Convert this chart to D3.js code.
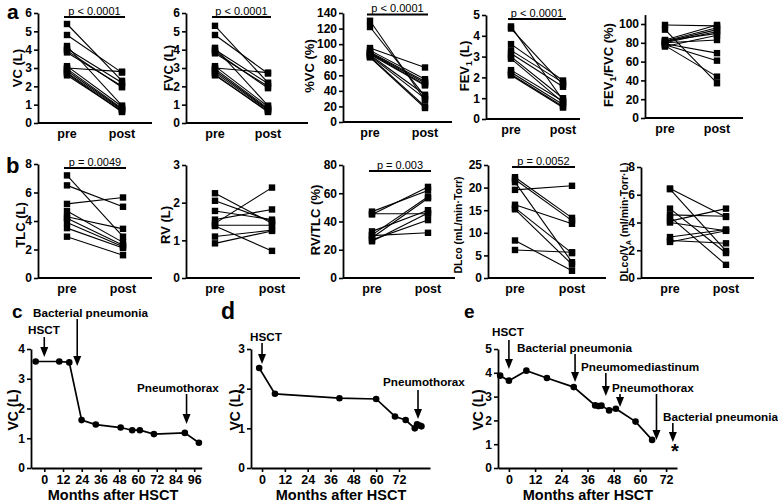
<!DOCTYPE html>
<html>
<head>
<meta charset="utf-8">
<script src="https://cdn.jsdelivr.net/npm/d3@7"></script>
<style>
  body { margin: 0; background: #fff; }
  svg { display: block; }
</style>
</head>
<body>
<script>
// ---- data: paired pre/post measurements ----
const vcPre = [5.4, 4.8, 4.2, 4.05, 3.95, 3.85, 3.1, 3.0, 2.95, 2.85, 2.75, 2.7, 2.6];
const vcPost = [2.3, 2.75, 0.95, 2.2, 1.95, 2.0, 0.9, 2.8, 0.8, 0.75, 0.7, 0.6, 0.65];
const fvcPre = [5.3, 4.8, 4.1, 4.0, 3.9, 3.8, 3.1, 3.0, 2.95, 2.85, 2.75, 2.65, 2.6];
const fvcPost = [2.2, 2.7, 0.95, 2.15, 1.9, 2.0, 0.9, 2.75, 0.8, 0.75, 0.7, 0.6, 0.65];
const pctVcPre = [130, 122, 95, 92, 90, 89, 88, 87, 86, 85, 84, 83];
const pctVcPost = [28, 33, 70, 55, 52, 50, 48, 47, 35, 30, 20, 18];
const fev1Pre = [4.45, 4.35, 3.6, 3.3, 3.15, 3.0, 2.9, 2.35, 2.25, 2.15, 2.1];
const fev1Post = [0.9, 1.65, 1.85, 1.75, 1.55, 1.0, 0.8, 0.85, 0.7, 0.6, 0.55];
const ratioPre = [99, 94, 83, 82, 81, 80, 80, 79, 78, 77, 76, 82];
const ratioPost = [98, 37, 99, 96, 94, 92, 83, 69, 61, 44, 88, 90];

const tlcPre = [7.2, 6.5, 5.2, 4.7, 4.3, 4.2, 3.9, 3.5, 2.9];
const tlcPost = [2.9, 5.0, 5.65, 2.5, 3.45, 2.3, 2.2, 2.1, 1.6];
const rvPre = [2.25, 2.05, 1.78, 1.55, 1.45, 1.4, 1.38, 1.1, 0.92];
const rvPost = [1.45, 1.5, 1.55, 1.82, 2.4, 1.4, 0.72, 1.27, 1.25];
const rvTlcPre = [47, 45, 45.5, 33, 30.5, 28.5, 27, 26, 30];
const rvTlcPost = [62, 64.5, 45.5, 48, 57.5, 56.5, 41, 46, 32];
const dlcoPre = [22.3, 21.8, 21.2, 19.5, 16.2, 15.5, 15.2, 8.3, 6.2];
const dlcoPost = [13.3, 12.7, 3.5, 20.4, 12.0, 5.5, 3.0, 1.6, 5.7];
const dlcoVaPre = [6.45, 6.4, 5.0, 4.55, 4.1, 4.0, 2.95, 2.7, 2.6, 4.4];
const dlcoVaPost = [4.4, 1.95, 1.8, 4.45, 5.0, 3.4, 3.5, 2.5, 3.4, 0.95];

// ---- data: time courses (months after HSCT, VC in L) ----
const cMonths = [-5.5, 9.6, 16, 23.9, 33, 48.9, 56.3, 61.2, 70.2, 90, 99];
const cVC = [3.58, 3.58, 3.55, 1.61, 1.46, 1.36, 1.27, 1.27, 1.14, 1.18, 0.85];
const dMonths = [-1.5, 6.8, 40.7, 60, 69.9, 75.5, 80.3, 81.5, 82.9, 83.8];
const dVC = [2.52, 1.87, 1.76, 1.74, 1.3, 1.21, 1.0, 1.1, 1.07, 1.05];
const eMonths = [-4, 0, 8, 17.4, 29.7, 39.5, 41, 42.4, 45.9, 49, 58, 65.6];
const eVC = [3.88, 3.67, 4.09, 3.78, 3.4, 2.63, 2.6, 2.62, 2.42, 2.49, 1.95, 1.18];

const cEvents = ["HSCT", "Bacterial pneumonia", "Pneumothorax"];
const cEventMonths = [0, 21.1, 91.1];
const dEvents = ["HSCT", "Pneumothorax"];
const dEventMonths = [0, 82];
const eEvents = ["HSCT", "Bacterial pneumonia", "Pneumomediastinum", "Pneumothorax", "Pneumothorax", "Bacterial pneumonia"];
const eEventMonths = [0, 30.3, 44.4, 50.9, 67.6, 75.1];

const groups = ["pre", "post"];

const FONT = "'Liberation Sans', Arial, Helvetica, sans-serif";
const svg = d3.select("body").append("svg")
    .attr("width", 778).attr("height", 502)
    .style("font-family", FONT);

// paired pre/post panel
const paired = (p) => {
  const g = svg.append("g");
  const y = d3.scaleLinear().domain([0, p.max]).range([p.y0, p.y1]);
  const x = d3.scalePoint().domain(groups).range([p.preX, p.postX]);

  g.append("g")
      .attr("transform", `translate(${p.ax},0)`)
      .call(d3.axisLeft(y).tickValues(p.ticks).tickFormat(d3.format("d")).tickSize(4).tickSizeOuter(0).tickPadding(2))
      .call(a => a.select(".domain").attr("stroke-width", 1.8))
      .call(a => a.selectAll(".tick line").attr("stroke-width", 1.6))
      .call(a => a.selectAll("text").attr("font-size", 12).attr("font-weight", "bold").attr("fill", "#000").style("font-family", FONT));

  g.append("line")
      .attr("x1", p.ax).attr("x2", p.xEnd)
      .attr("y1", y(0)).attr("y2", y(0))
      .attr("stroke", "#000").attr("stroke-width", 1.8);

  g.selectAll(".grp").data(groups).join("text")
      .attr("x", d => x(d)).attr("y", y(0) + 15)
      .attr("text-anchor", "middle")
      .attr("font-size", 12.5).attr("font-weight", "bold")
      .text(d => d);

  const pairs = p.pre.map((v, i) => [v, p.post[i]]);
  g.selectAll(".pair").data(pairs).join("line")
      .attr("x1", x("pre")).attr("x2", x("post"))
      .attr("y1", d => y(d[0])).attr("y2", d => y(d[1]))
      .attr("stroke", "#000").attr("stroke-width", 1.1);

  const pts = p.pre.map(v => ["pre", v]).concat(p.post.map(v => ["post", v]));
  g.selectAll(".pt").data(pts).join("rect")
      .attr("x", d => x(d[0]) - 3.2).attr("y", d => y(d[1]) - 3.2)
      .attr("width", 6.4).attr("height", 6.4)
      .attr("fill", "#000");

  const fs = p.labelFont || 13;
  const lab = g.append("text")
      .attr("transform", `translate(${p.labelX},${p.labelY}) rotate(-90)`)
      .attr("text-anchor", "middle")
      .attr("font-size", fs).attr("font-weight", "bold");
  p.label.forEach(part => {
    const t = lab.append("tspan").text(part[0]);
    if (part[1] === "sub") t.attr("font-size", fs * 0.7).attr("dy", 3);
    if (part[1] === "up") t.attr("dy", -3);
  });

  if (p.pText) {
    g.append("line")
        .attr("x1", x("pre") - 3).attr("x2", x("post") + 3)
        .attr("y1", p.pY).attr("y2", p.pY)
        .attr("stroke", "#000").attr("stroke-width", 1.8);
    g.append("text")
        .attr("x", (x("pre") + x("post")) / 2).attr("y", p.pY - 2.5)
        .attr("text-anchor", "middle").attr("font-size", 11)
        .text(p.pText);
  }
};

paired({ pre: vcPre, post: vcPost, max: 6, ticks: d3.range(0, 7), y0: 123, y1: 13, ax: 38, preX: 67, postX: 122, xEnd: 152,
  label: [["VC (L)"]], labelX: 22, labelY: 68, pText: "p < 0.0001", pY: 17 });
paired({ pre: fvcPre, post: fvcPost, max: 6, ticks: d3.range(0, 7), y0: 123, y1: 13, ax: 186, preX: 215, postX: 268, xEnd: 308,
  label: [["FVC (L)"]], labelX: 173, labelY: 68, pText: "p < 0.0001", pY: 17 });
paired({ pre: pctVcPre, post: pctVcPost, max: 140, ticks: d3.range(0, 141, 20), y0: 122, y1: 13, ax: 343, preX: 370, postX: 425, xEnd: 452,
  label: [["%VC (%)"]], labelX: 314, labelY: 66, pText: "p < 0.0001", pY: 14.5 });
paired({ pre: fev1Pre, post: fev1Post, max: 5, ticks: d3.range(0, 6), y0: 119, y1: 15, ax: 486, preX: 511, postX: 563, xEnd: 580,
  label: [["FEV"], ["1", "sub"], [" (L)", "up"]], labelX: 469, labelY: 66, pText: "p < 0.0001", pY: 19 });
paired({ pre: ratioPre, post: ratioPost, max: 110, ticks: d3.range(0, 101, 20), y0: 118, y1: 14.6, ax: 645, preX: 665, postX: 717, xEnd: 743,
  label: [["FEV"], ["1", "sub"], ["/FVC (%)", "up"]], labelX: 613, labelY: 65 });

paired({ pre: tlcPre, post: tlcPost, max: 8, ticks: d3.range(0, 9, 2), y0: 278, y1: 164, ax: 38, preX: 67, postX: 123, xEnd: 152,
  label: [["TLC (L)"]], labelX: 25, labelY: 225, pText: "p = 0.0049", pY: 168 });
paired({ pre: rvPre, post: rvPost, max: 3, ticks: d3.range(0, 4), y0: 278, y1: 165, ax: 186, preX: 215, postX: 272, xEnd: 300,
  label: [["RV (L)"]], labelX: 170, labelY: 225 });
paired({ pre: rvTlcPre, post: rvTlcPost, max: 80, ticks: d3.range(0, 81, 20), y0: 278, y1: 165, ax: 343, preX: 372, postX: 428, xEnd: 455,
  label: [["RV/TLC (%)"]], labelX: 320, labelY: 220, pText: "p = 0.003", pY: 171 });
paired({ pre: dlcoPre, post: dlcoPost, max: 25, ticks: d3.range(0, 26, 5), y0: 278, y1: 165, ax: 488, preX: 515, postX: 572, xEnd: 606,
  label: [["DLco (mL/min·Torr)"]], labelX: 462, labelY: 225, labelFont: 10.5, pText: "p = 0.0052", pY: 167 });
paired({ pre: dlcoVaPre, post: dlcoVaPost, max: 8, ticks: d3.range(0, 9, 2), y0: 278, y1: 167, ax: 641, preX: 670, postX: 726, xEnd: 754,
  label: [["DLco/V"], ["A", "sub"], [" (ml/min·Torr·L)", "up"]], labelX: 628, labelY: 222, labelFont: 10.5 });

// time-course panel
const timecourse = (p) => {
  const g = svg.append("g");
  const x = d3.scaleLinear().domain(p.xDomain).range([p.ax, p.xEnd]);
  const y = d3.scaleLinear().domain([0, p.max]).range([468, 349]);

  g.append("g")
      .attr("transform", `translate(${p.ax},0)`)
      .call(d3.axisLeft(y).ticks(p.max).tickFormat(d3.format("d")).tickSize(4).tickSizeOuter(0).tickPadding(2))
      .call(a => a.select(".domain").attr("stroke-width", 1.8))
      .call(a => a.selectAll(".tick line").attr("stroke-width", 1.6))
      .call(a => a.selectAll("text").attr("font-size", 12).attr("font-weight", "bold").attr("fill", "#000").style("font-family", FONT));

  g.append("g")
      .attr("transform", `translate(0,${y(0)})`)
      .call(d3.axisBottom(x).tickValues(p.xTicks).tickFormat(d3.format("d")).tickSize(4).tickSizeOuter(0).tickPadding(3))
      .call(a => a.select(".domain").attr("stroke-width", 1.8))
      .call(a => a.selectAll(".tick line").attr("stroke-width", 1.6))
      .call(a => a.selectAll("text").attr("font-size", 12.5).attr("font-weight", "bold").attr("fill", "#000").style("font-family", FONT));

  const pts = p.months.map((m, i) => [m, p.vc[i]]);
  g.append("path").datum(pts)
      .attr("d", d3.line().x(d => x(d[0])).y(d => y(d[1])))
      .attr("fill", "none").attr("stroke", "#000").attr("stroke-width", 1.7);
  g.selectAll(".pt").data(pts).join("circle")
      .attr("cx", d => x(d[0])).attr("cy", d => y(d[1])).attr("r", 3.3)
      .attr("fill", "#000");

  g.append("text")
      .attr("transform", `translate(${p.labelX},410) rotate(-90)`)
      .attr("text-anchor", "middle").attr("font-size", 14).attr("font-weight", "bold")
      .text("VC (L)");
  g.append("text")
      .attr("x", (x(p.xTicks[0]) + p.xEnd) / 2 + p.titleShift).attr("y", 500)
      .attr("text-anchor", "middle").attr("font-size", 14.5).attr("font-weight", "bold")
      .text("Months after HSCT");

  // event annotations
  p.events.forEach((ev, i) => {
    const ax = x(p.eventMonths[i]);
    const a = p.arrows[i];
    g.append("line")
        .attr("x1", ax).attr("x2", ax).attr("y1", a[0]).attr("y2", a[1] - 8)
        .attr("stroke", "#000").attr("stroke-width", 1.6);
    g.append("path")
        .attr("d", `M${ax - 4},${a[1] - 10}L${ax + 4},${a[1] - 10}L${ax},${a[1]}Z`)
        .attr("fill", "#000");
    if (a[2] !== null) {
      g.append("text")
          .attr("x", a[2]).attr("y", a[3])
          .attr("font-size", 11.7).attr("font-weight", "bold")
          .text(ev);
    }
  });
};

timecourse({ months: cMonths, vc: cVC, max: 4, xDomain: [-8.5, 100.8], ax: 31, xEnd: 201.7, xTicks: d3.range(0, 97, 12),
  labelX: 18, titleShift: -10, events: cEvents, eventMonths: cEventMonths,
  arrows: [[337, 357, 28, 334], [319, 366, 33, 317], [394, 424, 137, 392]] });
timecourse({ months: dMonths, vc: dVC, max: 3, xDomain: [-5.8, 88.3], ax: 251, xEnd: 430, xTicks: d3.range(0, 73, 12),
  labelX: 240, titleShift: -5, events: dEvents, eventMonths: dEventMonths,
  arrows: [[343, 364, 250, 341], [390, 419, 383, 386]] });
timecourse({ months: eMonths, vc: eVC, max: 5, xDomain: [-5, 77], ax: 498, xEnd: 677, xTicks: d3.range(0, 73, 12),
  labelX: 483, titleShift: -5, events: eEvents, eventMonths: eEventMonths,
  arrows: [[340, 369, 492, 336], [354, 382, 517, 352], [373, 396, 581, 371], [394, 407, 612, 392], [394, 440, null, 0], [423, 442, 663, 421]] });

svg.append("text").attr("x", 675).attr("y", 458).attr("text-anchor", "middle")
    .attr("font-size", 20).attr("font-weight", "bold").text("*");

// panel letters
const letters = [["a", 7, 19, 21], ["b", 6, 173, 22], ["c", 12, 318, 19], ["d", 221, 319, 23], ["e", 464, 318, 19]];
svg.selectAll(".letter").data(letters).join("text")
    .attr("x", d => d[1]).attr("y", d => d[2])
    .attr("font-size", d => d[3]).attr("font-weight", "bold")
    .text(d => d[0]);
</script>
</body>
</html>
